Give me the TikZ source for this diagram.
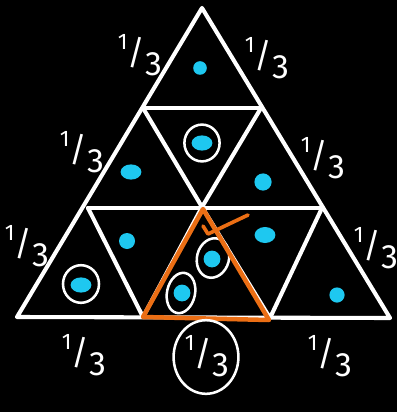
\documentclass[tikz,border=0pt]{standalone}
\usepackage{fontspec}
\setsansfont{Fira Sans}
\usetikzlibrary{shapes.geometric}
\definecolor{dotblue}{RGB}{30,200,240}
\definecolor{pen}{RGB}{235,110,20}
\newcommand{\third}{\raisebox{0.45em}{\fontsize{16}{16}\selectfont 1}/\raisebox{-0.32em}{3}}
\begin{document}
\begin{tikzpicture}[
        x=0.025cm, y=-0.025cm,
        grid/.style={draw=white, line width=2.9pt, line join=round, line cap=round},
        dot/.style={circle, fill=dotblue, inner sep=0pt, minimum size=0.4cm},
        bigdot/.style={ellipse, fill=dotblue, inner sep=0pt, minimum width=0.52cm, minimum height=0.38cm},
        ring/.style={ellipse, draw=white, line width=1.8pt, inner sep=0pt},
        frac/.style={text=white, font=\sffamily\fontsize{24}{24}\selectfont, inner sep=0pt},
        penline/.style={draw=pen, line width=3.2pt, line join=round, line cap=round}
      ]
      \fill[black] (0,0) rectangle (397,412);
      \useasboundingbox (0,0) rectangle (397,412);
      \coordinate (a) at (202,8);
      \coordinate (l1) at (143,108);
      \coordinate (r1) at (261,108);
      \coordinate (l2) at (88,208);
      \coordinate (m2) at (202,207);
      \coordinate (r2) at (322,208);
      \coordinate (b0) at (17,317);
      \coordinate (b1) at (143,317);
      \coordinate (b2) at (270,318);
      \coordinate (b3) at (390,318);
      \draw[grid] (a) -- (b0) -- (b3) -- cycle;
      \draw[grid] (l1) -- (r1);
      \draw[grid] (l2) -- (r2);
      \draw[grid] (l1) -- (m2) -- (r1);
      \draw[grid] (l2) -- (b1) -- (m2) -- (b2) -- (r2);
      \node[dot, minimum size=0.34cm] (d1) at (200,68) {};
      \node[bigdot] (d2) at (202,143) {};
      \node[bigdot] (d3) at (131,172) {};
      \node[dot, minimum size=0.43cm] (d4) at (263,182) {};
      \node[dot] (d5) at (127,241) {};
      \node[bigdot, minimum height=0.4cm] (d6) at (265,235) {};
      \node[bigdot] (d7) at (81,285) {};
      \node[dot, minimum size=0.42cm] (d8) at (212,259) {};
      \node[dot, minimum size=0.42cm] (d9) at (182,293) {};
      \node[dot, minimum size=0.38cm] (d10) at (337,295) {};
      \node[ring, minimum width=0.88cm, minimum height=0.92cm] (c2) at (d2) {};
      \node[ring, minimum width=0.9cm, minimum height=0.94cm] (c7) at (81,284) {};
      \node[ring, minimum width=0.8cm, minimum height=1cm, rotate=-15] (c8) at (213,258) {};
      \node[ring, minimum width=0.7cm, minimum height=1.02cm, rotate=-12] (c9) at (181,293) {};
      \coordinate (o1) at (143,317);
      \coordinate (o2) at (203,209);
      \coordinate (o3) at (269,320);
      \draw[penline] (o1) -- (o2) -- (o3) -- cycle;
      \coordinate (k1) at (203,226);
      \coordinate (k2) at (208,234);
      \coordinate (k3) at (248,215);
      \draw[penline, line width=2.6pt] (k1) -- (k2) -- (k3);
      \node[frac] (f1) at (140,55) {\third};
      \node[frac] (f2) at (267,58) {\third};
      \node[frac] (f3) at (82,152) {\third};
      \node[frac] (f4) at (323,158) {\third};
      \node[frac] (f5) at (27,246) {\third};
      \node[frac] (f6) at (376,248) {\third};
      \node[frac] (f7) at (84,355) {\third};
      \node[frac] (f8) at (207,356) {\third};
      \node[frac] (f9) at (330,356) {\third};
      \node[ring, minimum width=1.62cm, minimum height=1.84cm] (c10) at (206,357) {};
    \end{tikzpicture}
\end{document}
